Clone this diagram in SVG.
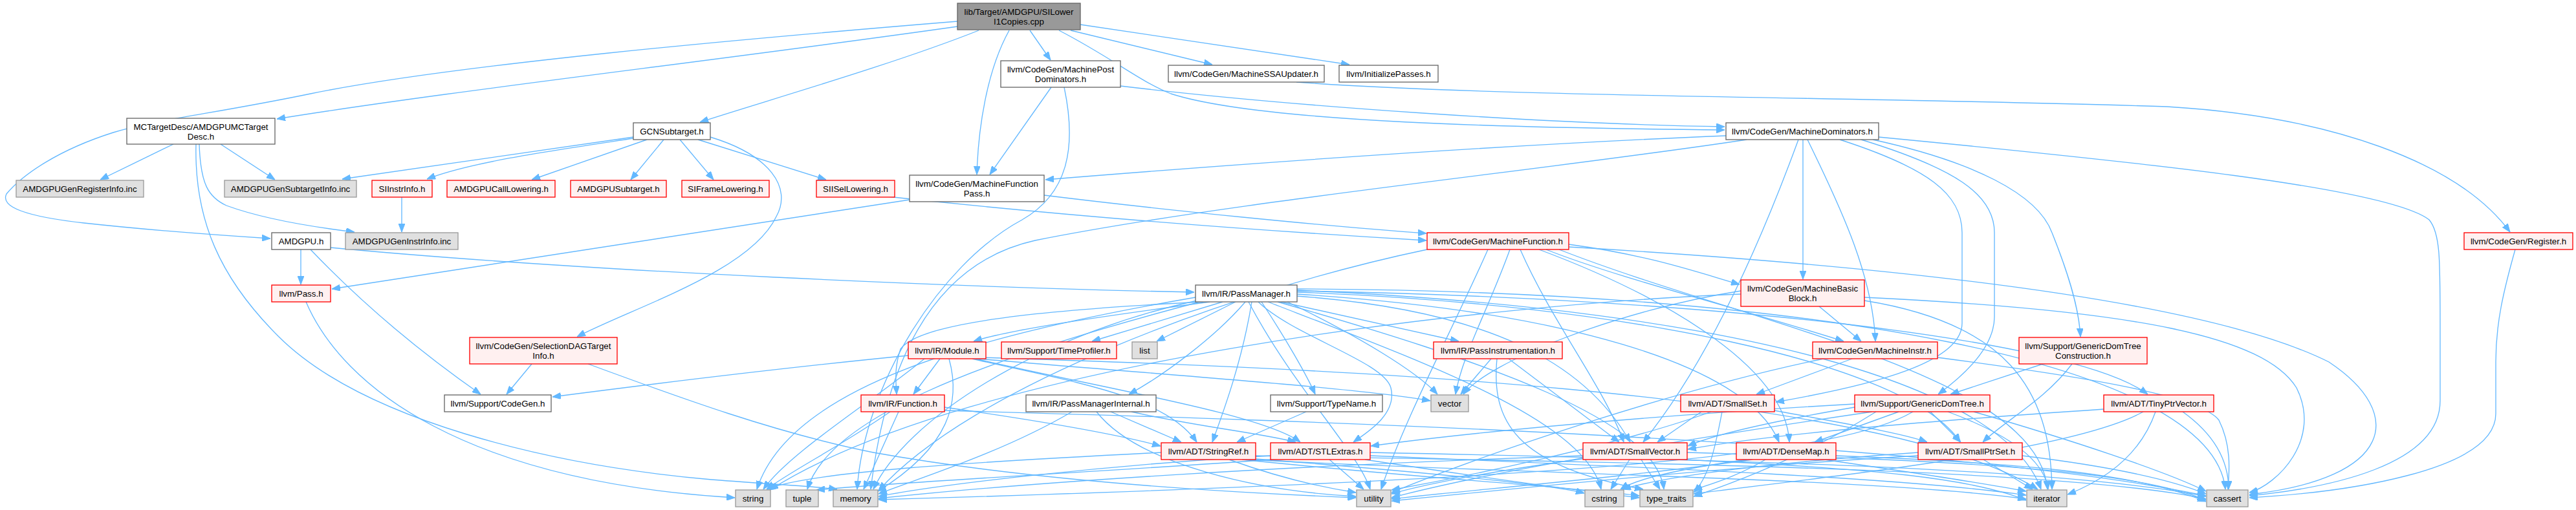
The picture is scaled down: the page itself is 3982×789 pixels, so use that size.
<svg xmlns="http://www.w3.org/2000/svg" width="3982" height="789" viewBox="0 0 3982 789">
<style>
.n rect{stroke-width:1.33}
.w rect{fill:#ffffff;stroke:#666666}
.r rect{fill:#FFF0F0;stroke:#FF0000}
.g rect{fill:#E0E0E0;stroke:#999999}
.rt rect{fill:#999999;stroke:#666666}
text{font-family:"Liberation Sans",Arial,Helvetica,sans-serif;font-size:13.33px;text-anchor:middle;fill:#000000}
#edges path{fill:none;stroke:#63B8FF;stroke-width:1.33;marker-end:url(#a)}
</style>
<defs>
<marker id="a" viewBox="0 0 13 10" refX="13" refY="5" markerWidth="13" markerHeight="10" markerUnits="userSpaceOnUse" orient="auto"><path d="M0,0 L13,5 L0,10 z" fill="#63B8FF" stroke="#63B8FF"/></marker>
</defs>
<rect x="0" y="0" width="3982" height="789" fill="#ffffff"/>
<g id="edges">
<path d="M1480,33 C1150,60 700,100 480,145 C330,176 240,185 175,205 C90,232 35,270 10,300 C0,320 40,335 130,345 C230,356 340,364 418,369"/>
<path d="M1480,41 C1100,95 700,140 428,184"/>
<path d="M1513,47 C1380,100 1170,160 1082,189"/>
<path d="M1560,47 C1525,110 1512,200 1510,270"/>
<path d="M1592,47 L1624,93"/>
<path d="M1637,47 C1720,90 1760,125 1810,145 C1950,190 2350,198 2666,201"/>
<path d="M1655,47 L1874,100"/>
<path d="M1670,38 L2086,100"/>
<path d="M268,223 L155,278"/>
<path d="M341,223 L425,278"/>
<path d="M308,223 C310,285 322,305 350,318 C410,340 490,352 548,359"/>
<path d="M303,223 C300,340 340,430 430,520 C560,650 850,720 1100,742 C1200,750 1260,752 1294,757"/>
<path d="M979,212 L529,277"/>
<path d="M979,214 C860,232 730,250 660,277"/>
<path d="M1000,216 L822,278"/>
<path d="M1026,216 L975,278"/>
<path d="M1051,216 L1103,278"/>
<path d="M1079,216 L1277,278"/>
<path d="M1098,212 C1190,240 1225,290 1200,335 C1160,420 980,475 892,521"/>
<path d="M621,305 L621,359"/>
<path d="M465,386 L465,440"/>
<path d="M480,386 C560,470 650,545 743,610"/>
<path d="M511,383 C900,420 1500,445 1846,452"/>
<path d="M473,467 C530,600 720,745 1136,770"/>
<path d="M822,563 L783,610"/>
<path d="M909,563 C1050,615 1200,670 1350,700 C1600,745 1900,762 2096,770"/>
<path d="M1406,309 C1000,370 700,420 513,447"/>
<path d="M1614,302 C1800,325 2050,350 2205,361"/>
<path d="M1625,135 L1530,270"/>
<path d="M1732,133 C2000,165 2400,192 2666,196"/>
<path d="M1645,135 C1665,230 1650,300 1580,340 C1450,410 1335,600 1325,757"/>
<path d="M2004,127 C2300,150 2900,150 3350,165 C3600,180 3800,250 3880,359"/>
<path d="M2668,210 C2300,225 1900,255 1616,278"/>
<path d="M2700,216 C2400,262 1900,312 1600,372 C1420,412 1365,600 1346,757"/>
<path d="M2787,216 L2787,432"/>
<path d="M2780,216 C2720,380 2640,560 2540,684"/>
<path d="M2794,216 C2850,330 2895,430 2899,528"/>
<path d="M2844,216 C2980,260 3033,300 3033,360 L3033,500 C3033,560 2900,595 2745,622"/>
<path d="M2877,216 C3020,260 3083,300 3083,360 L3083,490 C3083,540 3030,585 2996,610"/>
<path d="M2895,216 C3050,250 3150,300 3172,360 C3200,430 3214,480 3216,521"/>
<path d="M2904,212 C3300,250 3690,290 3755,340 C3772,360 3772,400 3772,500 L3772,620 C3772,720 3600,755 3477,767"/>
<path d="M3888,386 C3870,450 3858,500 3858,560 L3858,640 C3858,730 3620,762 3477,770"/>
<path d="M2425,378 C2550,395 2620,420 2689,440"/>
<path d="M2390,386 C2500,430 2700,480 2850,528"/>
<path d="M2379,386 C2550,450 2760,560 2766,684"/>
<path d="M2350,386 C2400,500 2480,600 2510,684"/>
<path d="M2425,382 C2900,410 3400,460 3600,560 C3720,640 3700,740 3477,765"/>
<path d="M2206,386 C1900,450 1500,600 1358,759"/>
<path d="M2300,386 C2250,500 2170,650 2135,757"/>
<path d="M2334,386 C2300,480 2260,550 2250,610"/>
<path d="M2410,386 C2700,500 3150,580 3165,757"/>
<path d="M1870,467 C1700,490 1560,510 1505,528"/>
<path d="M1890,467 L1688,528"/>
<path d="M1910,467 L1788,528"/>
<path d="M1860,467 C1600,480 1420,500 1392,540 C1382,570 1385,590 1386,610"/>
<path d="M1925,467 C1880,520 1800,580 1745,610"/>
<path d="M1935,467 C1920,560 1890,640 1874,684"/>
<path d="M1950,467 C1985,520 2020,580 2033,610"/>
<path d="M1945,467 C2000,520 2140,560 2150,600 C2160,640 2115,668 2092,684"/>
<path d="M1980,467 L2255,528"/>
<path d="M1990,467 C2100,520 2190,575 2222,610"/>
<path d="M2005,458 C2300,480 2450,560 2520,684"/>
<path d="M2005,455 C2400,480 2700,560 2750,684"/>
<path d="M2005,452 C2500,470 2950,560 3030,684"/>
<path d="M2005,450 C2600,460 3200,520 3320,610"/>
<path d="M2005,447 C2800,450 3420,560 3440,757"/>
<path d="M2005,449 C2700,480 3100,600 3155,757"/>
<path d="M1960,467 C2200,560 2450,650 2475,757"/>
<path d="M1850,465 C1600,520 1400,650 1350,757"/>
<path d="M1855,467 C1500,560 1280,650 1248,757"/>
<path d="M1975,467 C2300,560 2560,650 2572,757"/>
<path d="M1930,467 C2000,600 2100,700 2118,757"/>
<path d="M1848,460 C1500,520 1220,600 1170,757"/>
<path d="M1453,555 L1412,610"/>
<path d="M1467,555 C1485,620 1470,690 1357,760"/>
<path d="M1404,550 C1200,570 1000,595 854,614"/>
<path d="M1503,555 C1650,590 1800,610 1850,684"/>
<path d="M1508,555 C1700,600 1950,640 2010,684"/>
<path d="M1429,555 C1350,620 1220,700 1180,757"/>
<path d="M1515,553 C2000,568 2900,600 3150,757"/>
<path d="M1512,555 C1800,580 2100,600 2211,620"/>
<path d="M1389,637 L1335,757"/>
<path d="M1376,637 C1300,690 1220,730 1185,757"/>
<path d="M1460,630 C1600,650 1720,670 1794,690"/>
<path d="M1460,635 C2000,650 3000,680 3410,767"/>
<path d="M1657,637 C1550,700 1420,740 1358,764"/>
<path d="M1717,637 L1826,684"/>
<path d="M1749,637 C1850,660 1950,670 2003,684"/>
<path d="M1695,637 C1760,720 1950,760 2096,768"/>
<path d="M2019,637 L1912,684"/>
<path d="M1795,700 C1500,715 1250,730 1185,757"/>
<path d="M1941,705 C2500,715 3200,725 3410,772"/>
<path d="M1941,710 C2200,730 2400,750 2449,763"/>
<path d="M1930,711 C2400,735 2900,740 3132,772"/>
<path d="M1920,711 C2200,740 2450,755 2534,767"/>
<path d="M1900,711 C1980,740 2050,755 2096,762"/>
<path d="M2055,711 L2108,757"/>
<path d="M2118,700 C2700,712 3200,725 3410,768"/>
<path d="M2118,705 C2600,725 2950,740 3132,766"/>
<path d="M1964,705 C1700,720 1450,750 1358,768"/>
<path d="M1964,711 C1700,730 1400,745 1262,758"/>
<path d="M2110,711 C2300,740 2450,760 2534,770"/>
<path d="M2305,555 L2258,610"/>
<path d="M2332,555 L2503,684"/>
<path d="M2314,555 C2305,650 2340,720 2540,757"/>
<path d="M2519,711 L2490,757"/>
<path d="M2537,711 L2566,757"/>
<path d="M2459,708 C2300,730 2200,750 2151,764"/>
<path d="M2608,700 C3000,712 3300,725 3410,774"/>
<path d="M2600,711 C2900,725 3050,740 3132,774"/>
<path d="M2447,705 C2000,720 1600,745 1358,771"/>
<path d="M2630,637 L2562,684"/>
<path d="M2743,635 C2850,655 2940,670 2979,684"/>
<path d="M2662,637 C2650,700 2640,740 2618,762"/>
<path d="M2645,637 C2500,690 2250,740 2151,758"/>
<path d="M2935,637 L2805,684"/>
<path d="M2984,637 L3031,684"/>
<path d="M2867,630 C2750,650 2650,672 2609,690"/>
<path d="M2867,625 C2600,640 2300,665 2119,690"/>
<path d="M3051,637 C3200,680 3350,730 3410,760"/>
<path d="M3011,637 C3100,670 3160,710 3166,757"/>
<path d="M2957,637 C2850,700 2500,740 1358,773"/>
<path d="M2900,637 C2800,700 2700,740 2618,768"/>
<path d="M2894,637 C2600,680 2300,730 2151,770"/>
<path d="M3158,563 L3015,610"/>
<path d="M3203,563 C3160,620 3100,650 3065,684"/>
<path d="M3252,633 C3000,650 2750,670 2609,695"/>
<path d="M3374,637 C3420,670 3445,710 3445,757"/>
<path d="M3332,637 C3310,700 3260,740 3196,765"/>
<path d="M3313,637 C3200,700 2800,740 2618,764"/>
<path d="M2838,705 C3100,715 3300,730 3410,776"/>
<path d="M2700,711 C2600,725 2530,740 2505,757"/>
<path d="M2820,711 C2950,730 3080,750 3132,760"/>
<path d="M2729,711 C2680,740 2640,750 2618,758"/>
<path d="M2709,711 C2500,740 2250,760 2151,772"/>
<path d="M3126,705 C3250,720 3350,740 3410,764"/>
<path d="M2965,700 C2750,715 2580,735 2508,757"/>
<path d="M3066,711 L3142,757"/>
<path d="M2965,705 C2700,720 2400,750 2151,775"/>
<path d="M2812,474 L2877,528"/>
<path d="M2882,460 C3300,480 3500,520 3550,600 C3590,680 3520,750 3477,762"/>
<path d="M2882,465 C3100,500 3170,600 3172,757"/>
<path d="M2691,455 C2300,470 1500,560 1190,758"/>
<path d="M2691,450 C2500,480 2300,560 2262,610"/>
<path d="M2863,555 L2715,610"/>
<path d="M2995,553 C3200,580 3400,610 3430,650 C3450,690 3446,730 3444,757"/>
<path d="M2819,555 C2600,600 2300,700 2151,762"/>
<path d="M1362,303 C1700,340 2000,360 2205,372"/>
</g>
<g id="root" class="n rt"><rect x="1480" y="5" width="190" height="41"/><text x="1575" y="22.5">lib/Target/AMDGPU/SILower</text><text x="1575" y="37.5">I1Copies.cpp</text></g>
<g id="mctd" class="n w"><rect x="196" y="183" width="229" height="40"/><text x="310.5" y="200.5">MCTargetDesc/AMDGPUMCTarget</text><text x="310.5" y="215.5">Desc.h</text></g>
<g id="regInfo" class="n g"><rect x="25" y="279" width="197" height="26"/><text x="123.5" y="296.7">AMDGPUGenRegisterInfo.inc</text></g>
<g id="subInfo" class="n g"><rect x="347" y="279" width="204" height="26"/><text x="449" y="296.7">AMDGPUGenSubtargetInfo.inc</text></g>
<g id="siinstr" class="n r"><rect x="575" y="279" width="93" height="26"/><text x="621.5" y="296.7">SIInstrInfo.h</text></g>
<g id="callLow" class="n r"><rect x="691" y="279" width="167" height="26"/><text x="774.5" y="296.7">AMDGPUCallLowering.h</text></g>
<g id="amdSub" class="n r"><rect x="882" y="279" width="148" height="26"/><text x="956" y="296.7">AMDGPUSubtarget.h</text></g>
<g id="siFrame" class="n r"><rect x="1054" y="279" width="135" height="26"/><text x="1121.5" y="296.7">SIFrameLowering.h</text></g>
<g id="siISel" class="n r"><rect x="1262" y="279" width="121" height="26"/><text x="1322.5" y="296.7">SIISelLowering.h</text></g>
<g id="amdgpu" class="n w"><rect x="420" y="360" width="91" height="26"/><text x="465.5" y="377.7">AMDGPU.h</text></g>
<g id="instrInfo" class="n g"><rect x="534" y="360" width="174" height="26"/><text x="621" y="377.7">AMDGPUGenInstrInfo.inc</text></g>
<g id="gcn" class="n w"><rect x="979" y="190" width="119" height="26"/><text x="1038.5" y="207.7">GCNSubtarget.h</text></g>
<g id="mpdom" class="n w"><rect x="1547" y="94" width="185" height="41"/><text x="1639.5" y="111.5">llvm/CodeGen/MachinePost</text><text x="1639.5" y="126.5">Dominators.h</text></g>
<g id="ssa" class="n w"><rect x="1806" y="101" width="241" height="26"/><text x="1926.5" y="118.7">llvm/CodeGen/MachineSSAUpdater.h</text></g>
<g id="initp" class="n w"><rect x="2070" y="101" width="153" height="26"/><text x="2146.5" y="118.7">llvm/InitializePasses.h</text></g>
<g id="mfp" class="n w"><rect x="1406" y="271" width="208" height="41"/><text x="1510" y="288.5">llvm/CodeGen/MachineFunction</text><text x="1510" y="303.5">Pass.h</text></g>
<g id="mf" class="n r"><rect x="2206" y="360" width="219" height="26"/><text x="2315.5" y="377.7">llvm/CodeGen/MachineFunction.h</text></g>
<g id="mdom" class="n w"><rect x="2668" y="190" width="236" height="26"/><text x="2786" y="207.7">llvm/CodeGen/MachineDominators.h</text></g>
<g id="reg" class="n r"><rect x="3809" y="360" width="168" height="26"/><text x="3893" y="377.7">llvm/CodeGen/Register.h</text></g>
<g id="pass" class="n r"><rect x="420" y="441" width="91" height="26"/><text x="465.5" y="458.7">llvm/Pass.h</text></g>
<g id="sdag" class="n r"><rect x="726" y="522" width="228" height="41"/><text x="840" y="539.5">llvm/CodeGen/SelectionDAGTarget</text><text x="840" y="554.5">Info.h</text></g>
<g id="cg" class="n w"><rect x="687" y="611" width="165" height="26"/><text x="769.5" y="628.7">llvm/Support/CodeGen.h</text></g>
<g id="string" class="n g"><rect x="1137" y="758" width="54" height="26"/><text x="1164" y="775.7">string</text></g>
<g id="tuple" class="n g"><rect x="1215" y="758" width="50" height="26"/><text x="1240" y="775.7">tuple</text></g>
<g id="memory" class="n g"><rect x="1288" y="758" width="69" height="26"/><text x="1322.5" y="775.7">memory</text></g>
<g id="pm" class="n w"><rect x="1848" y="441" width="157" height="26"/><text x="1926.5" y="458.7">llvm/IR/PassManager.h</text></g>
<g id="module" class="n r"><rect x="1404" y="529" width="120" height="26"/><text x="1464" y="546.7">llvm/IR/Module.h</text></g>
<g id="timeprof" class="n r"><rect x="1548" y="529" width="178" height="26"/><text x="1637" y="546.7">llvm/Support/TimeProfiler.h</text></g>
<g id="list" class="n g"><rect x="1750" y="529" width="39" height="26"/><text x="1769.5" y="546.7">list</text></g>
<g id="func" class="n r"><rect x="1331" y="611" width="129" height="26"/><text x="1395.5" y="628.7">llvm/IR/Function.h</text></g>
<g id="pmi" class="n w"><rect x="1586" y="611" width="201" height="26"/><text x="1686.5" y="628.7">llvm/IR/PassManagerInternal.h</text></g>
<g id="typename" class="n w"><rect x="1964" y="611" width="173" height="26"/><text x="2050.5" y="628.7">llvm/Support/TypeName.h</text></g>
<g id="stringref" class="n r"><rect x="1795" y="685" width="146" height="26"/><text x="1868" y="702.7">llvm/ADT/StringRef.h</text></g>
<g id="stlextras" class="n r"><rect x="1964" y="685" width="154" height="26"/><text x="2041" y="702.7">llvm/ADT/STLExtras.h</text></g>
<g id="passinst" class="n r"><rect x="2216" y="529" width="199" height="26"/><text x="2315.5" y="546.7">llvm/IR/PassInstrumentation.h</text></g>
<g id="vector" class="n g"><rect x="2212" y="611" width="58" height="26"/><text x="2241" y="628.7">vector</text></g>
<g id="smallvec" class="n r"><rect x="2447" y="685" width="161" height="26"/><text x="2527.5" y="702.7">llvm/ADT/SmallVector.h</text></g>
<g id="utility" class="n g"><rect x="2097" y="758" width="53" height="26"/><text x="2123.5" y="775.7">utility</text></g>
<g id="cstring" class="n g"><rect x="2450" y="758" width="60" height="26"/><text x="2480" y="775.7">cstring</text></g>
<g id="type_traits" class="n g"><rect x="2535" y="758" width="82" height="26"/><text x="2576" y="775.7">type_traits</text></g>
<g id="mbb" class="n r"><rect x="2691" y="433" width="191" height="41"/><text x="2786.5" y="450.5">llvm/CodeGen/MachineBasic</text><text x="2786.5" y="465.5">Block.h</text></g>
<g id="minstr" class="n r"><rect x="2802" y="529" width="193" height="26"/><text x="2898.5" y="546.7">llvm/CodeGen/MachineInstr.h</text></g>
<g id="gdtc" class="n r"><rect x="3121" y="522" width="198" height="41"/><text x="3220" y="539.5">llvm/Support/GenericDomTree</text><text x="3220" y="554.5">Construction.h</text></g>
<g id="smallset" class="n r"><rect x="2598" y="611" width="145" height="26"/><text x="2670.5" y="628.7">llvm/ADT/SmallSet.h</text></g>
<g id="gdt" class="n r"><rect x="2867" y="611" width="209" height="26"/><text x="2971.5" y="628.7">llvm/Support/GenericDomTree.h</text></g>
<g id="tinyptr" class="n r"><rect x="3252" y="611" width="170" height="26"/><text x="3337" y="628.7">llvm/ADT/TinyPtrVector.h</text></g>
<g id="densemap" class="n r"><rect x="2684" y="685" width="154" height="26"/><text x="2761" y="702.7">llvm/ADT/DenseMap.h</text></g>
<g id="smallptrset" class="n r"><rect x="2965" y="685" width="161" height="26"/><text x="3045.5" y="702.7">llvm/ADT/SmallPtrSet.h</text></g>
<g id="iterator" class="n g"><rect x="3133" y="758" width="62" height="26"/><text x="3164" y="775.7">iterator</text></g>
<g id="cassert" class="n g"><rect x="3411" y="758" width="64" height="26"/><text x="3443" y="775.7">cassert</text></g>
</svg>
